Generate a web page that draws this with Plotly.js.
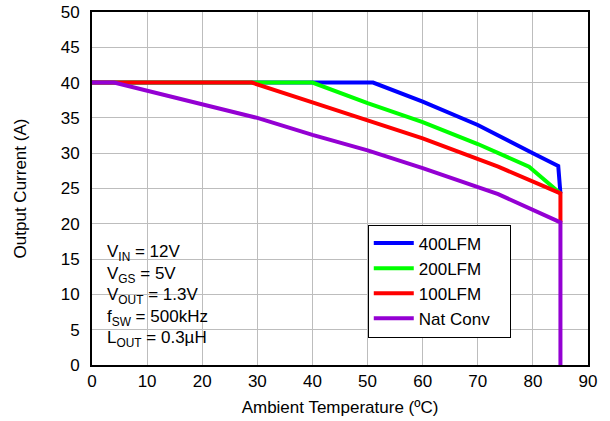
<!DOCTYPE html>
<html>
<head>
<meta charset="utf-8">
<script src="https://cdn.plot.ly/plotly-3.0.1.min.js"></script>
<style>html,body{margin:0;padding:0;background:#fff;}#chart{width:610px;height:421px;}</style>
</head>
<body>
<div id="chart"></div>
<script>
// Ambient temperature (ºC) vs output current (A)
const names = ["400LFM", "200LFM", "100LFM", "Nat Conv"];
const colors = ["#0000FF", "#00FF00", "#FF0000", "#9400D3"];

const x400 = [0, 51, 60, 70, 80, 84.6, 85];
const y400 = [40, 40, 37.3, 34.0, 30.0, 28.2, 24.3];

const x200 = [0, 40, 50, 60, 70, 79.3, 85];
const y200 = [40, 40, 37.1, 34.4, 31.3, 28.1, 24.3];

const x100 = [0, 29, 40, 50, 60, 73.7, 85, 85];
const y100 = [40, 40, 37.2, 34.7, 32.1, 28.1, 24.3, 20.2];

const xNat = [0, 4, 30, 40, 50, 60, 73.7, 85, 85];
const yNat = [40, 40, 35.0, 32.6, 30.4, 27.9, 24.2, 20.2, 0];

const xTicks = [0, 10, 20, 30, 40, 50, 60, 70, 80, 90];
const yTicks = [0, 5, 10, 15, 20, 25, 30, 35, 40, 45, 50];

const conditions = [
  "V<sub>IN</sub> = 12V",
  "V<sub>GS</sub> = 5V",
  "V<sub>OUT</sub> = 1.3V",
  "f<sub>SW</sub> = 500kHz",
  "L<sub>OUT</sub> = 0.3µH"
];

const xs = [x400, x200, x100, xNat];
const ys = [y400, y200, y100, yNat];

// trailing non-breaking spaces only pad the legend box on the right
const PAD = "\u00a0\u00a0\u00a0";
const traces = names.map((n, i) => ({
  type: "scatter", mode: "lines", name: n + PAD,
  x: xs[i], y: ys[i],
  line: {color: colors[i], width: 4},
  hoverinfo: "skip"
}));

const FAM = "Liberation Sans, Arial, sans-serif";
const FS = 17;
const font = {family: FAM, size: FS, color: "#000"};

// condition text lines (paper coords, from top)
const condY = [0.317, 0.256, 0.195, 0.134, 0.073];
const annotations = conditions.map((t, i) => ({
  xref: "paper", yref: "paper", x: 0.027, y: condY[i],
  xanchor: "left", yanchor: "middle", showarrow: false,
  text: t, font: {family: FAM, size: FS, color: "#000"}
}));

const layout = {
  width: 610, height: 421,
  margin: {l: 91.5, r: 22, t: 12, b: 56},
  paper_bgcolor: "#fff", plot_bgcolor: "#fff",
  font: font,
  showlegend: true,
  legend: {
    x: 0.556, y: 0.398, xanchor: "left", yanchor: "top",
    bgcolor: "#fff", bordercolor: "#000", borderwidth: 1,
    font: {family: FAM, size: FS, color: "#000"},
    itemwidth: 40,
    tracegroupgap: 0
  },
  xaxis: {
    range: [0, 90], tickvals: xTicks, ticktext: xTicks.map(String),
    showgrid: true, gridcolor: "#bdbdbd", gridwidth: 1,
    showline: true, linecolor: "#000", linewidth: 2, mirror: true,
    ticks: "", zeroline: false, tickfont: {size: FS},
    title: {text: "Ambient Temperature (ºC)", font: {size: FS}, standoff: 11}
  },
  yaxis: {
    range: [0, 50], tickvals: yTicks, ticktext: yTicks.map(String),
    showgrid: true, gridcolor: "#bdbdbd", gridwidth: 1,
    showline: true, linecolor: "#000", linewidth: 2, mirror: true,
    ticks: "", zeroline: false, tickfont: {size: FS},
    ticklabelstandoff: 7,
    title: {text: "Output Current (A)", font: {size: FS}, standoff: 30}
  },
  shapes: [{
    type: "rect", xref: "paper", yref: "paper",
    x0: 0, x1: 0.273, y0: 0, y1: 0.377,
    fillcolor: "#fff", line: {width: 0}, layer: "between"
  }],
  annotations: annotations
};

Plotly.newPlot("chart", traces, layout, {staticPlot: true, displayModeBar: false});
</script>
</body>
</html>
